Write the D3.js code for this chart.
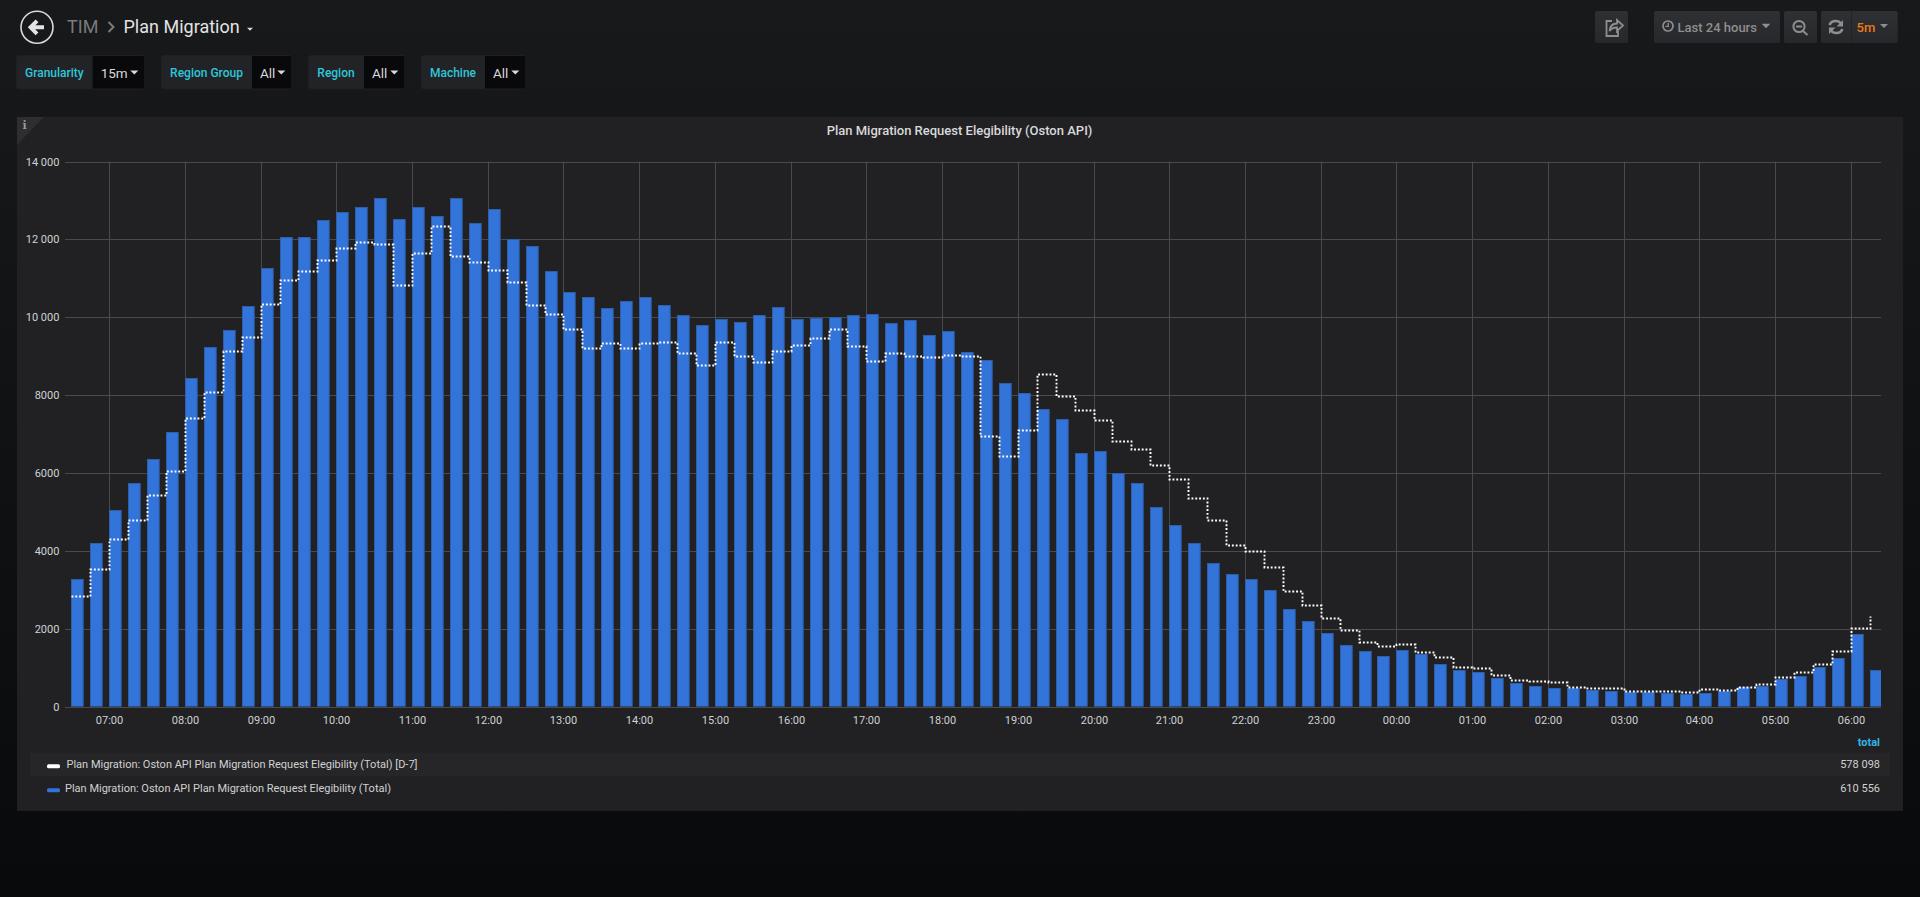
<!DOCTYPE html>
<html lang="en">
<head>
<meta charset="UTF-8">
<title>Plan Migration</title>
<script src="https://d3js.org/d3.v7.min.js"></script>
<style>
  html, body { margin: 0; padding: 0; overflow: hidden; background: #0b0c0e; }
  svg { display: block; font-family: Roboto, sans-serif; }
</style>
</head>
<body>
<div id="chart"></div>
<script>
// 15 minute slots, 06:30 one day to 06:15 the next
const slots = [
  "06:30","06:45","07:00","07:15","07:30","07:45","08:00","08:15",
  "08:30","08:45","09:00","09:15","09:30","09:45","10:00","10:15",
  "10:30","10:45","11:00","11:15","11:30","11:45","12:00","12:15",
  "12:30","12:45","13:00","13:15","13:30","13:45","14:00","14:15",
  "14:30","14:45","15:00","15:15","15:30","15:45","16:00","16:15",
  "16:30","16:45","17:00","17:15","17:30","17:45","18:00","18:15",
  "18:30","18:45","19:00","19:15","19:30","19:45","20:00","20:15",
  "20:30","20:45","21:00","21:15","21:30","21:45","22:00","22:15",
  "22:30","22:45","23:00","23:15","23:30","23:45","00:00","00:15",
  "00:30","00:45","01:00","01:15","01:30","01:45","02:00","02:15",
  "02:30","02:45","03:00","03:15","03:30","03:45","04:00","04:15",
  "04:30","04:45","05:00","05:15","05:30","05:45","06:00","06:15"
];
const totalValues = [
  3283,4206,5053,5745,6350,7062,8430,9232,
  9668,10285,11260,12055,12070,12490,12695,12825,
  13055,12535,12825,12595,13055,12415,12790,12000,
  11830,11195,10645,10510,10245,10415,10515,10310,
  10045,9795,9960,9885,10045,10260,9960,9970,
  10000,10055,10070,9860,9935,9540,9645,9105,
  8910,8320,8050,7640,7385,6510,6555,6000,
  5745,5130,4675,4190,3685,3400,3265,3000,
  2495,2185,1880,1572,1418,1308,1444,1359,
  1085,939,887,734,598,521,477,469,
  418,392,375,367,359,323,359,400,
  495,538,708,785,1016,1257,1872,931
];
const d7Values = [
  2829,3522,4300,4786,5437,6043,7405,8087,
  9139,9498,10330,10960,11190,11475,11780,11925,
  11875,10830,11650,12335,11560,11415,11225,10910,
  10320,10070,9685,9210,9345,9200,9330,9370,
  9090,8780,9370,8995,8860,9130,9295,9465,
  9695,9270,8875,9080,9010,8975,9030,9010,
  6960,6430,7115,8540,7985,7615,7370,6825,
  6610,6205,5840,5345,4795,4155,4000,3590,
  2965,2605,2275,1957,1667,1565,1598,1393,
  1272,1008,990,820,692,657,641,513,
  477,469,400,392,392,375,451,426,
  513,572,770,880,1093,1426,2026,2324
];
const yTicks = [0,2000,4000,6000,8000,10000,12000,14000];
const yTickLabels = ["0","2000","4000","6000","8000","10 000","12 000","14 000"];
const panelTitle = "Plan Migration Request Elegibility (Oston API)";
const legendNames = [
  "Plan Migration: Oston API Plan Migration Request Elegibility (Total) [D-7]",
  "Plan Migration: Oston API Plan Migration Request Elegibility (Total)"
];
const legendTotals = ["578 098","610 556"];
const varNames = ["Granularity","Region Group","Region","Machine"];
const varValues = ["15m","All","All","All"];

const W = 1920, H = 897;
const plotLeft = 65, plotRight = 1881, plotTop = 161.5, plotBottom = 706.5;

const svg = d3.select("#chart").append("svg").attr("width", W).attr("height", H);

const defs = svg.append("defs");
const bg = defs.append("linearGradient").attr("id","bg").attr("x1",0).attr("x2",0).attr("y1",0).attr("y2",1);
bg.append("stop").attr("offset","0%").attr("stop-color","#18191b");
bg.append("stop").attr("offset","100%").attr("stop-color","#090a0c");
const btn = defs.append("linearGradient").attr("id","btn").attr("x1",0).attr("x2",0).attr("y1",0).attr("y2",1);
btn.append("stop").attr("offset","0%").attr("stop-color","#2f3033");
btn.append("stop").attr("offset","100%").attr("stop-color","#27282b");

svg.append("rect").attr("width",W).attr("height",H).attr("fill","url(#bg)");

// ---- top bar
function label(x, y, txt, size, color, weight, anchor) {
  return svg.append("text").attr("x",x).attr("y",y).attr("dy","0.35em")
    .attr("font-size",size).attr("fill",color)
    .attr("font-weight",weight || 400).attr("text-anchor",anchor || "start").text(txt);
}
function caret(cx, cy, size, color) {
  svg.append("path").attr("d",`M${cx-size},${cy-size/2}L${cx+size},${cy-size/2}L${cx},${cy+size/2}Z`).attr("fill",color);
}

svg.append("circle").attr("cx",37).attr("cy",27.3).attr("r",16).attr("fill","none").attr("stroke","#d8d9da").attr("stroke-width",1.6);
svg.append("path").attr("d","M44,27.3H33M37,20.8L30.6,27.3L37,33.8").attr("fill","none").attr("stroke","#e3e3e3").attr("stroke-width",4);

label(67,27,"TIM",18,"#7b7b7b");
svg.append("path").attr("d","M108.5,22L113.5,27L108.5,32").attr("fill","none").attr("stroke","#7b7b7b").attr("stroke-width",2);
label(123.5,27,"Plan Migration",18,"#e3e3e3");
caret(250,29.3,3,"#d8d9da");

// template variables, [label left, value left, right]
const varBoxes = [[16,92.7,145.3],[161,252,292.3],[308,364,405.3],[421,485,526.3]];
varNames.forEach((name,i) => {
  const b = varBoxes[i];
  svg.append("rect").attr("x",b[0]+.5).attr("y",55.5).attr("width",b[2]-b[0]-1).attr("height",33.5).attr("rx",2.5)
    .attr("fill","#212327").attr("stroke","#1f2024");
  svg.append("rect").attr("x",b[1]).attr("y",56).attr("width",b[2]-b[1]-1).attr("height",32.5).attr("fill","#09090b");
  label((b[0]+b[1])/2,72.5,name,12,"#2fc6d8",500,"middle");
  label(b[1]+8,73,varValues[i],13.5,"#d8d9da");
  caret(b[2]-11,72.5,4,"#d8d9da");
});

// right hand toolbar
[[1595,1628],[1654,1780],[1784,1817],[1821,1897.7]].forEach(b => {
  svg.append("rect").attr("x",b[0]).attr("y",11).attr("width",b[1]-b[0]).attr("height",32).attr("rx",2).attr("fill","url(#btn)");
});
svg.append("line").attr("x1",1851.5).attr("x2",1851.5).attr("y1",11).attr("y2",43).attr("stroke","#222326");
const iconCol = "#8e8e8e";
svg.append("path").attr("d","M1612,21H1606.5V36H1618V31M1609.5,31C1610,26 1613,23.5 1617,23.5V20L1623,25.5L1617,31V27.5C1614,27.5 1611,28.5 1609.5,31Z")
  .attr("fill","none").attr("stroke",iconCol).attr("stroke-width",1.8);
svg.append("circle").attr("cx",1668).attr("cy",26).attr("r",5).attr("fill","none").attr("stroke",iconCol).attr("stroke-width",1.7);
svg.append("path").attr("d","M1668.3,22.8V26.4H1665.4").attr("fill","none").attr("stroke",iconCol).attr("stroke-width",1.3);
label(1677.5,27,"Last 24 hours",13,iconCol,500);
caret(1766,26,4.3,iconCol);
svg.append("circle").attr("cx",1799).attr("cy",26.5).attr("r",5.6).attr("fill","none").attr("stroke",iconCol).attr("stroke-width",2);
svg.append("path").attr("d","M1796,26.5H1802M1803,31L1807.5,35").attr("fill","none").attr("stroke",iconCol).attr("stroke-width",2);
svg.append("path").attr("d","M1829.5,25C1831,20.5 1838,19.5 1841,23.5M1842.5,29C1841,33.5 1834,34.5 1831,30.5").attr("fill","none").attr("stroke",iconCol).attr("stroke-width",2.4);
svg.append("path").attr("d","M1843,20V26.5H1836.5ZM1829,34V27.5H1835.5Z").attr("fill",iconCol);
label(1856.5,27,"5m",13,"#eb7b18",500);
caret(1884,26,4,iconCol);

// ---- panel
svg.append("rect").attr("x",17).attr("y",117).attr("width",1886).attr("height",694).attr("rx",1).attr("fill","#212124");
svg.append("path").attr("d","M17,117H44L17,145Z").attr("fill","#2e2e32");
label(24.5,125.5,"i",11,"#9a9a9a",700,"middle").attr("font-family","'DejaVu Serif', serif");
label(959.5,130.5,panelTitle,13,"#d8d9da",500,"middle");

// ---- scales, from the times
const parse = d3.timeParse("%Y-%m-%d %H:%M");
const times = slots.map((s,i) => parse((i < 70 ? "2019-01-14 " : "2019-01-15 ") + s));
const x = d3.scaleTime()
  .domain([parse("2019-01-14 06:25"), parse("2019-01-15 06:24")])
  .rangeRound([plotLeft, plotRight]);
const y = d3.scaleLinear().domain([0, 14000]).rangeRound([plotBottom, plotTop]);

// grid goes under the bars
const xAxis = d3.axisBottom(x).ticks(d3.timeHour.every(1)).tickFormat(d3.timeFormat("%H:%M")).tickSize(plotTop-plotBottom).tickPadding(0);
const yAxis = d3.axisLeft(y).tickValues(yTicks).tickFormat((d,i) => yTickLabels[i]).tickSize(plotLeft-plotRight).tickPadding(0);

const gx = svg.append("g").attr("transform",`translate(0,${plotBottom})`).call(xAxis);
gx.select(".domain").remove();
gx.selectAll("line").attr("stroke","#4a4a4d");
gx.selectAll("text").attr("y",13.7).attr("dy","0.35em").attr("font-size",11).attr("font-family","Roboto, sans-serif").attr("fill","#d0d1d2");

const gy = svg.append("g").attr("transform",`translate(${plotLeft},0)`).call(yAxis);
gy.select(".domain").remove();
gy.selectAll("line").attr("stroke","#4a4a4d");
gy.selectAll("text").attr("x",-5.6).attr("dy","0.3em").attr("font-size",11).attr("font-family","Roboto, sans-serif").attr("fill","#d0d1d2");

// bars start at their timestamp, last one is cut by the plot edge
svg.append("clipPath").attr("id","plot").append("rect").attr("x",plotLeft).attr("y",plotTop-5).attr("width",plotRight-plotLeft).attr("height",plotBottom-plotTop+5);
svg.append("g").attr("clip-path","url(#plot)").selectAll("rect")
  .data(totalValues)
  .enter()
  .append("rect")
  .attr("x",(d,i) => x(times[i]) + .5)
  .attr("y",d => y(d) + .5)
  .attr("width",11.7)
  .attr("height",d => y(0) - y(d))
  .attr("fill","#3274d9")
  .attr("stroke","#2e5fa8")
  .attr("stroke-width",1);

// D-7 series as a dotted step line
const stepLine = d3.line().x((d,i) => x(times[i])).y(d => y(d)).curve(d3.curveStepAfter);
svg.append("path")
  .datum(d7Values)
  .attr("d",stepLine)
  .attr("transform","translate(.5,.5)")
  .attr("fill","none")
  .attr("stroke","#ffffff")
  .attr("stroke-width",1.9)
  .attr("stroke-dasharray","1.9 1.9");

// ---- legend
label(1880,742,"total",11,"#33b5e5",700,"end");
svg.append("rect").attr("x",30).attr("y",752.7).attr("width",1860).attr("height",24).attr("fill","#262628");
const legendColors = ["#ffffff","#3274d9"];
const legendRows = [764.5,788.5], legendTextX = [66.5,65];
legendNames.forEach((name,i) => {
  svg.append("rect").attr("x",47).attr("y",legendRows[i]-.3).attr("width",13).attr("height",4).attr("rx",1.5).attr("fill",legendColors[i]);
  label(legendTextX[i],legendRows[i],name,11,"#d0d1d2");
  label(1880,legendRows[i],legendTotals[i],11,"#d0d1d2",400,"end");
});
</script>
</body>
</html>
